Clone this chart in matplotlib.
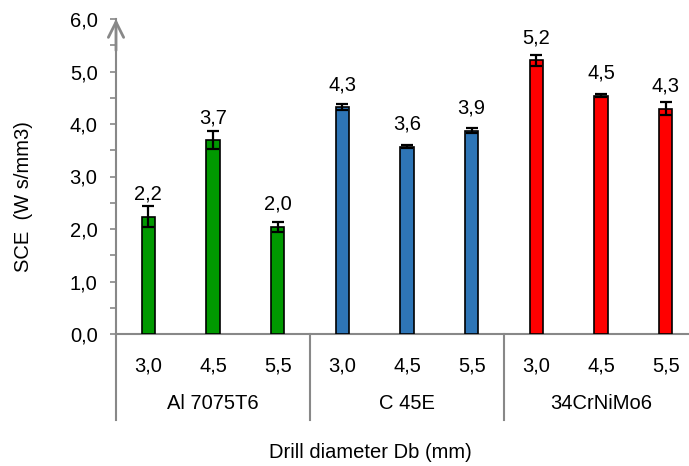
import matplotlib
matplotlib.use("Agg")
import matplotlib.pyplot as plt
import matplotlib.transforms as mtransforms
import numpy as np

plt.rcParams['font.family'] = ['Liberation Sans', 'DejaVu Sans']

# ---- data ----
groups = ["Al 7075T6", "C 45E", "34CrNiMo6"]
diameters = ["3,0", "4,5", "5,5"]
values_al = [2.23, 3.69, 2.04]
values_c45 = [4.32, 3.57, 3.87]
values_crnimo = [5.21, 4.54, 4.29]
err_al = [0.20, 0.17, 0.10]
err_c45 = [0.06, 0.03, 0.05]
err_crnimo = [0.10, 0.03, 0.12]
group_colors = ["#009900", "#2E75B6", "#FF0000"]
y_ticks = [0, 1, 2, 3, 4, 5, 6]
y_label = "SCE  (W s/mm3)"
x_label = "Drill diameter Db (mm)"

values = values_al + values_c45 + values_crnimo
errs = err_al + err_c45 + err_crnimo
colors = [c for c in group_colors for _ in diameters]
x = np.arange(len(values))

W, H = 689, 466
fig = plt.figure(figsize=(W / 100, H / 100), dpi=100)
ax_left, ax_bottom = 116, 334
ax_width = 9 * 64.67
ax_top = 19
ax = fig.add_axes([ax_left / W, (H - ax_bottom) / H, ax_width / W, (ax_bottom - ax_top) / H])

gray = "#888888"
fs = 14.5

ax.bar(x, values, width=0.21, color=colors, edgecolor="black", linewidth=1.2,
       yerr=errs, capsize=4.5,
       error_kw=dict(elinewidth=1.6, capthick=1.6, ecolor="black"), zorder=3)

for xi, v in zip(x, values):
    ax.annotate(f"{v:.1f}".replace(".", ","), xy=(xi, v), xytext=(0, 12.3),
                textcoords="offset points", ha="center", va="baseline", fontsize=fs)

ax.set_xlim(-0.5, len(values) - 0.5)
ax.set_ylim(0, 6)
ax.set_yticks(y_ticks, [f"{t:.1f}".replace(".", ",") for t in y_ticks])
ax.set_yticks(np.arange(0.5, 6, 1.0), minor=True)
ax.tick_params(axis="y", which="both", length=4.3, width=1.2, color=gray,
               direction="out", pad=9.0, labelsize=fs)
ax.set_xticks([])

for s in ["top", "right"]:
    ax.spines[s].set_visible(False)
for s in ["left", "bottom"]:
    ax.spines[s].set_color(gray)
    ax.spines[s].set_linewidth(1.5)

# arrow on y axis
ax.annotate("", xy=(0, 1.0), xytext=(0, 0.9), xycoords="axes fraction",
            arrowprops=dict(arrowstyle="->,head_length=1.1,head_width=0.55",
                            color=gray, lw=2.0, shrinkA=0, shrinkB=0))

trans = mtransforms.blended_transform_factory(ax.transData, ax.transAxes)
# category labels
for i, xi in enumerate(x):
    ax.text(xi, -(371.5 - 334) / 315, diameters[i % 3], transform=trans,
            ha="center", va="baseline", fontsize=fs)
for g, name in enumerate(groups):
    ax.text(3 * g + 1, -(409 - 334) / 315, name, transform=trans,
            ha="center", va="baseline", fontsize=fs)
for b in [-0.5, 2.5, 5.5, 8.5]:
    ax.plot([b, b], [0, -(420 - 334) / 315], transform=trans, color=gray,
            lw=1.5, clip_on=False)

fig.text(370 / W, (H - 457.5) / H, x_label, ha="center", va="baseline", fontsize=fs)
fig.text(24 / W, (H - 196.5) / H, y_label, rotation=90, ha="center", va="center",
         fontsize=fs)

fig.savefig("out.png", dpi=100)
